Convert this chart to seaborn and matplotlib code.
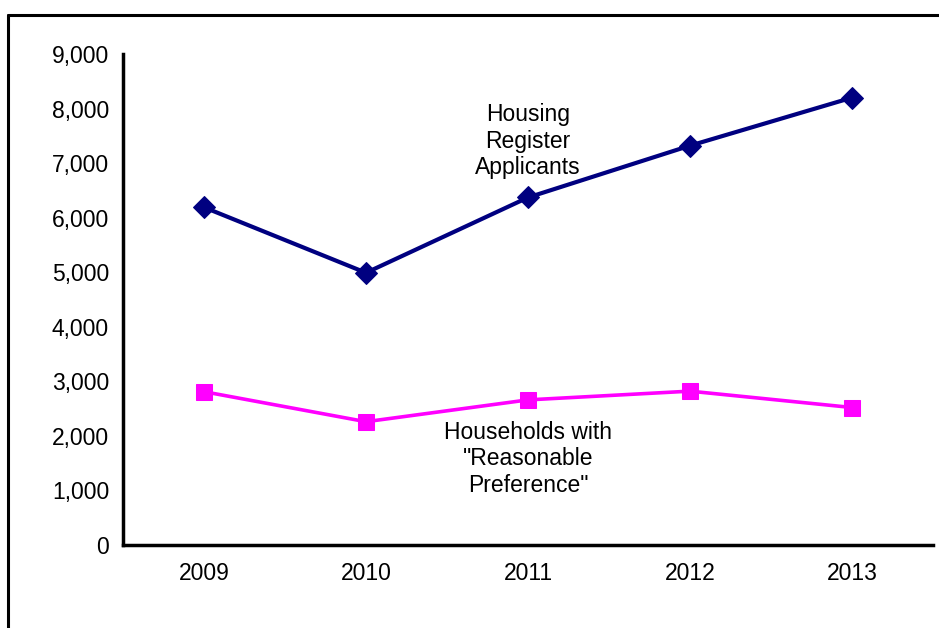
import matplotlib
matplotlib.use("Agg")
import matplotlib.pyplot as plt
from matplotlib.lines import Line2D
from matplotlib.ticker import FixedLocator, FuncFormatter
import pandas as pd
import seaborn as sns

# data
years = ["2009", "2010", "2011", "2012", "2013"]
register_applicants = [6190, 4990, 6370, 7320, 8200]
reasonable_preference = [2810, 2260, 2660, 2820, 2520]

sns.set_style("white")
plt.rcParams["font.family"] = ["Liberation Sans", "DejaVu Sans"]
plt.rcParams["text.color"] = "black"
plt.rcParams["xtick.color"] = "black"
plt.rcParams["ytick.color"] = "black"

df = pd.DataFrame({
    "year": years * 2,
    "value": register_applicants + reasonable_preference,
    "series": ["Housing Register Applicants"] * 5 + ["Households with Reasonable Preference"] * 5,
})

fig = plt.figure(figsize=(9.39, 6.28), dpi=100)
ax = fig.add_axes([123 / 939, 83 / 628, 810 / 939, 491 / 628])

reg = df[df["series"] == "Housing Register Applicants"]
pref = df[df["series"] != "Housing Register Applicants"]
sns.lineplot(data=reg, x="year", y="value", sort=False, color="#000080",
             linewidth=3, marker="D", markersize=11, markeredgecolor="#000080", ax=ax)
sns.lineplot(data=pref, x="year", y="value", sort=False, color="#FF00FF",
             linewidth=2.6, marker="s", markersize=11, markeredgecolor="#FF00FF", ax=ax)

ax.set_xlim(-0.5, 4.5)
ax.set_ylim(0, 9000)
ax.set_yticks(range(0, 9001, 1000))
ax.yaxis.set_major_formatter(FuncFormatter(lambda v, p: f"{int(v):,}"))
ax.xaxis.set_minor_locator(FixedLocator([-0.5, 0.5, 1.5, 2.5, 3.5, 4.5]))
ax.tick_params(axis="x", which="major", length=0, labelsize=16.5, pad=12)
ax.tick_params(axis="x", which="minor", length=6, width=2.5, direction="out", color="black")
ax.tick_params(axis="y", length=6, width=2.5, direction="out", color="black", labelsize=16.5, pad=4)
ax.set_xlabel("")
ax.set_ylabel("")
for side in ["top", "right"]:
    ax.spines[side].set_visible(False)
for side in ["left", "bottom"]:
    ax.spines[side].set_linewidth(2.5)
    ax.spines[side].set_color("black")

ax.text(2, 7400, "Housing\nRegister\nApplicants", ha="center", va="center",
        fontsize=16.5, linespacing=1.2, color="black")
ax.text(2.0, 1580, "Households with\n\"Reasonable\nPreference\"", ha="center", va="center",
        fontsize=16.5, linespacing=1.2, color="black")

# outer chart border (partly cropped in reference)
fig.add_artist(Line2D([8 / 939, 8 / 939], [0, 1 - 15 / 628], transform=fig.transFigure,
                      color="black", linewidth=2.2))
fig.add_artist(Line2D([8 / 939, 1], [1 - 15 / 628, 1 - 15 / 628], transform=fig.transFigure,
                      color="black", linewidth=2.2))

fig.savefig("out.png", dpi=100)
